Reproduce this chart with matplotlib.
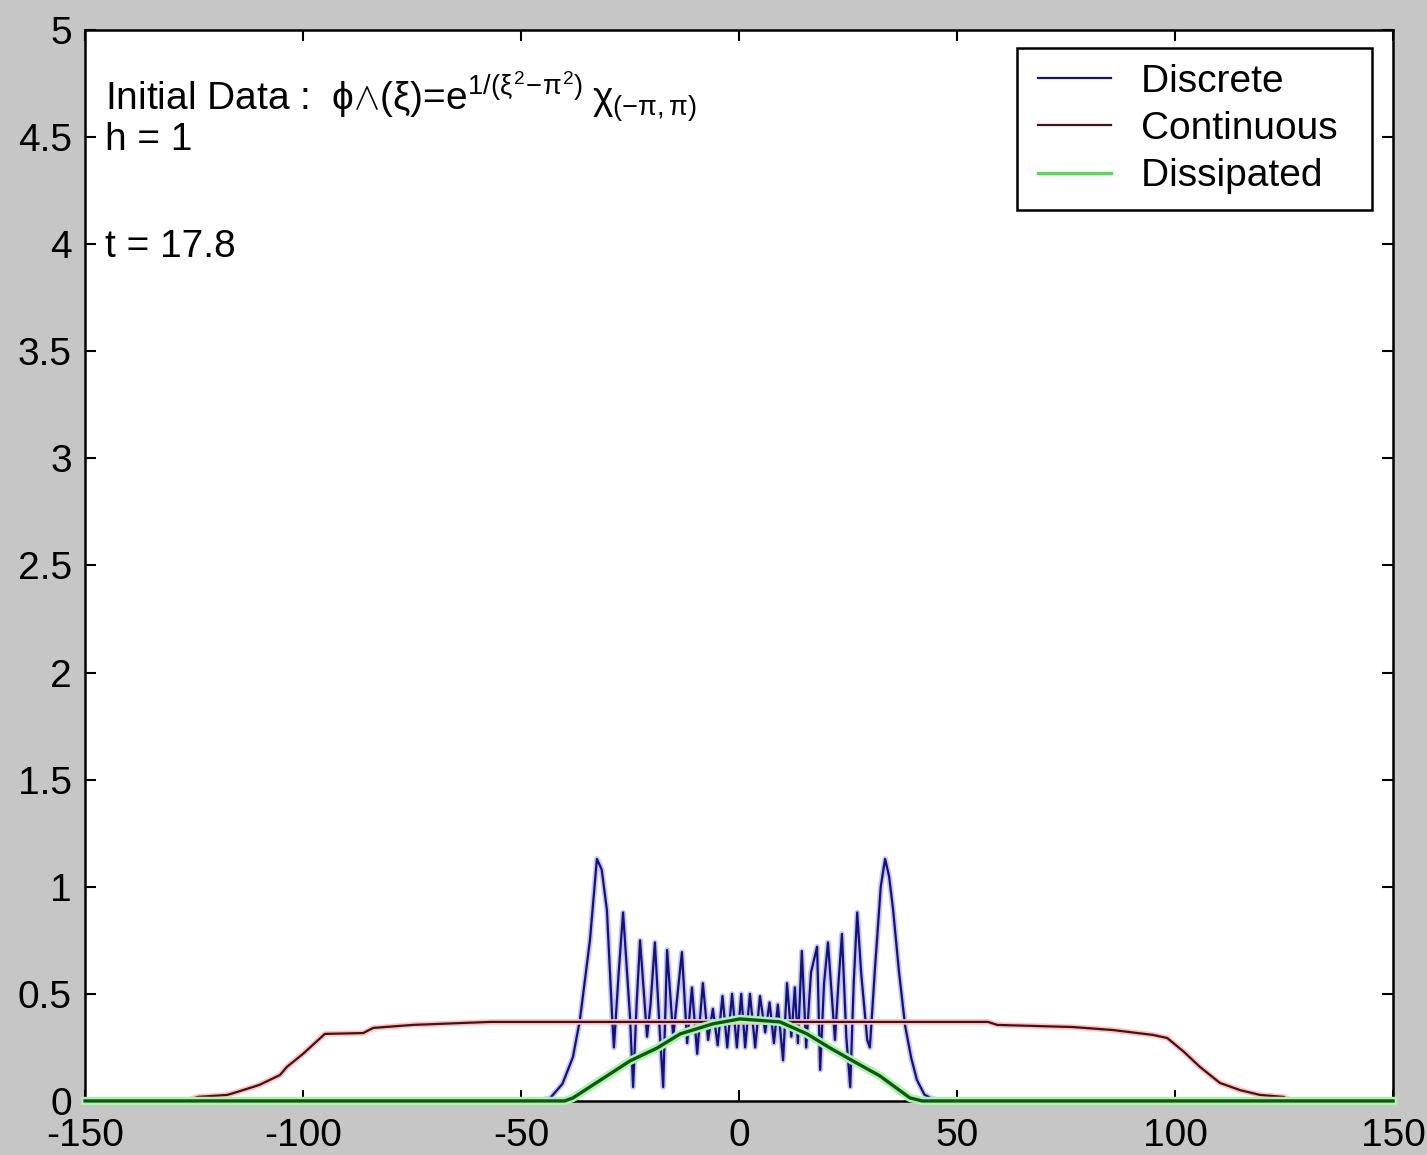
import matplotlib
matplotlib.use("Agg")
import matplotlib.pyplot as plt
import matplotlib.patheffects as pe
from matplotlib.legend_handler import HandlerLine2D

# ---------------- data ----------------
disc_x = [-150, -60, -46, -43.3, -40.5, -38.1, -36.5, -34.2, -32.6, -31.5, -30.3, -29.1,
          -28.7, -27.6, -26.6, -25.0, -24.3, -23.5, -22.7, -21.1, -20.3, -19.3, -18.2,
          -17.4, -16.5, -15.1, -14.1, -13.1, -11.9, -10.8, -9.6, -8.3, -7.1, -6.0, -4.9,
          -3.8, -2.7, -1.6, -0.5, 0.5, 1.4, 2.5, 3.7, 4.8, 6.0, 7.0, 8.0, 8.9, 10.1, 11.0,
          12.0, 12.8, 13.5, 14.4, 15.4, 16.5, 17.9, 18.6, 19.5, 20.4, 22.0, 22.8, 23.6,
          24.6, 25.5, 26.3, 27.1, 28.0, 29.4, 30.0, 31.2, 32.5, 33.5, 34.4, 35.3, 36.7,
          38.1, 39.5, 40.8, 42.5, 43.8, 46, 60, 150]
disc_y = [0, 0, 0, 0.014, 0.08, 0.205, 0.378, 0.75, 1.13, 1.08, 0.89, 0.39,
          0.25, 0.60, 0.88, 0.39, 0.065, 0.45, 0.75, 0.30, 0.45, 0.74, 0.33,
          0.065, 0.705, 0.30, 0.50, 0.695, 0.27, 0.53, 0.22, 0.55, 0.285, 0.43, 0.26,
          0.49, 0.25, 0.50, 0.25, 0.50, 0.25, 0.50, 0.25, 0.49, 0.32, 0.46, 0.27, 0.45, 0.19, 0.55,
          0.30, 0.53, 0.27, 0.70, 0.25, 0.60, 0.72, 0.145, 0.55, 0.74, 0.285, 0.55, 0.78,
          0.30, 0.065, 0.55, 0.88, 0.60, 0.285, 0.25, 0.625, 1.0, 1.13, 1.05, 0.90, 0.60,
          0.35, 0.20, 0.098, 0.03, 0.015, 0, 0, 0]

cont_x = [-150, -127, -124.1, -117.4, -115.1, -110, -105.3, -103.7, -100, -95.0, -86.2,
          -83.9, -74.8, -57.1, 57.1, 59.2, 76.6, 85.8, 95.0, 98.2, 102, 105.7, 110.3,
          115, 119.5, 124.8, 127, 150]
cont_y = [0, 0, 0.019, 0.028, 0.042, 0.075, 0.121, 0.159, 0.22, 0.313, 0.317,
          0.341, 0.355, 0.369, 0.369, 0.355, 0.345, 0.331, 0.308, 0.294, 0.23, 0.159, 0.084,
          0.05, 0.028, 0.019, 0, 0]

diss_x = [-150, -40, -38.1, -30.3, -25.0, -18.8, -13.5, -6.0, 0.2, 9.4, 15.6, 20.9,
          26.1, 32.3, 39.2, 42, 150]
diss_y = [0, 0, 0.014, 0.117, 0.187, 0.247, 0.313, 0.36, 0.383, 0.369, 0.313, 0.247,
          0.187, 0.117, 0.014, 0, 0]

series_labels = ["Discrete", "Continuous", "Dissipated"]
x_ticks = [-150, -100, -50, 0, 50, 100, 150]
y_ticks = [0, 0.5, 1, 1.5, 2, 2.5, 3, 3.5, 4, 4.5, 5]
y_tick_labels = ["0", "0.5", "1", "1.5", "2", "2.5", "3", "3.5", "4", "4.5", "5"]

# ---------------- style ----------------
plt.rcParams['font.family'] = ['Liberation Sans', 'DejaVu Sans']
plt.rcParams['mathtext.fontset'] = 'custom'
plt.rcParams['mathtext.rm'] = 'Liberation Sans'
plt.rcParams['mathtext.it'] = 'Liberation Sans'
plt.rcParams['mathtext.bf'] = 'Liberation Sans'

FS = 28
fig = plt.figure(figsize=(14.27, 11.55), dpi=100, facecolor='#c6c6c6')
ax = fig.add_axes([0.0596, 0.0468, 0.9166, 0.9272])
ax.set_facecolor('white')

blue = '#12127a'
red = '#4a1010'
green = '#0a5c0a'

ax.plot(disc_x, disc_y, color=blue, lw=1.6, label=series_labels[0], zorder=3,
        path_effects=[pe.Stroke(linewidth=4, foreground='#c4c4ff'), pe.Normal()])
ax.plot(cont_x, cont_y, color=red, lw=1.6, label=series_labels[1], zorder=4,
        path_effects=[pe.Stroke(linewidth=4, foreground='#ffc0c0'), pe.Normal()])
ax.plot(diss_x, diss_y, color=green, lw=2.4, label=series_labels[2], zorder=5,
        clip_on=False,
        path_effects=[pe.Stroke(linewidth=6, foreground='#b0f0b0'), pe.Normal()])

ax.set_xlim(-150, 150)
ax.set_ylim(0, 5)
ax.set_xticks(x_ticks)
ax.set_xticklabels([str(v) for v in x_ticks])
ax.set_yticks(y_ticks)
ax.set_yticklabels(y_tick_labels)
ax.tick_params(direction='in', length=8, width=1.5, top=True, right=True,
               labelsize=FS, colors='black')
ax.tick_params(axis='y', pad=9.5)
ax.tick_params(axis='x', pad=12.5)
for s in ax.spines.values():
    s.set_linewidth(1.8)
    s.set_color('black')
    s.set_zorder(2)

ax.text(-145.4, 4.63,
        r'Initial Data :  $\phi{\wedge}(\xi)$=e$^{1/(\xi^2\!-\!\pi^2)}$$\;\chi_{(-\pi,\pi)}$',
        fontsize=FS, va='baseline', ha='left')
ax.text(-145.4, 4.44, 'h = 1', fontsize=FS, va='baseline', ha='left')
ax.text(-145.4, 3.94, 't = 17.8', fontsize=FS, va='baseline', ha='left')

leg = ax.legend(loc='upper right', bbox_to_anchor=(0.984, 0.983), borderaxespad=0,
                fontsize=FS, handlelength=2.0, handletextpad=0.79, labelspacing=0.29,
                borderpad=0.4, fancybox=False, framealpha=1, edgecolor='black',
                handler_map={plt.Line2D: HandlerLine2D(xpad=0.139)})
leg.get_frame().set_linewidth(1.8)
for line, txt in zip(leg.get_lines(), leg.get_texts()):
    line.set_path_effects([])
    txt.set_text(txt.get_text() + ' \u2009')
leg.get_lines()[2].set_color('#5cd65c')

fig.savefig('out.png', dpi=100, facecolor=fig.get_facecolor())
